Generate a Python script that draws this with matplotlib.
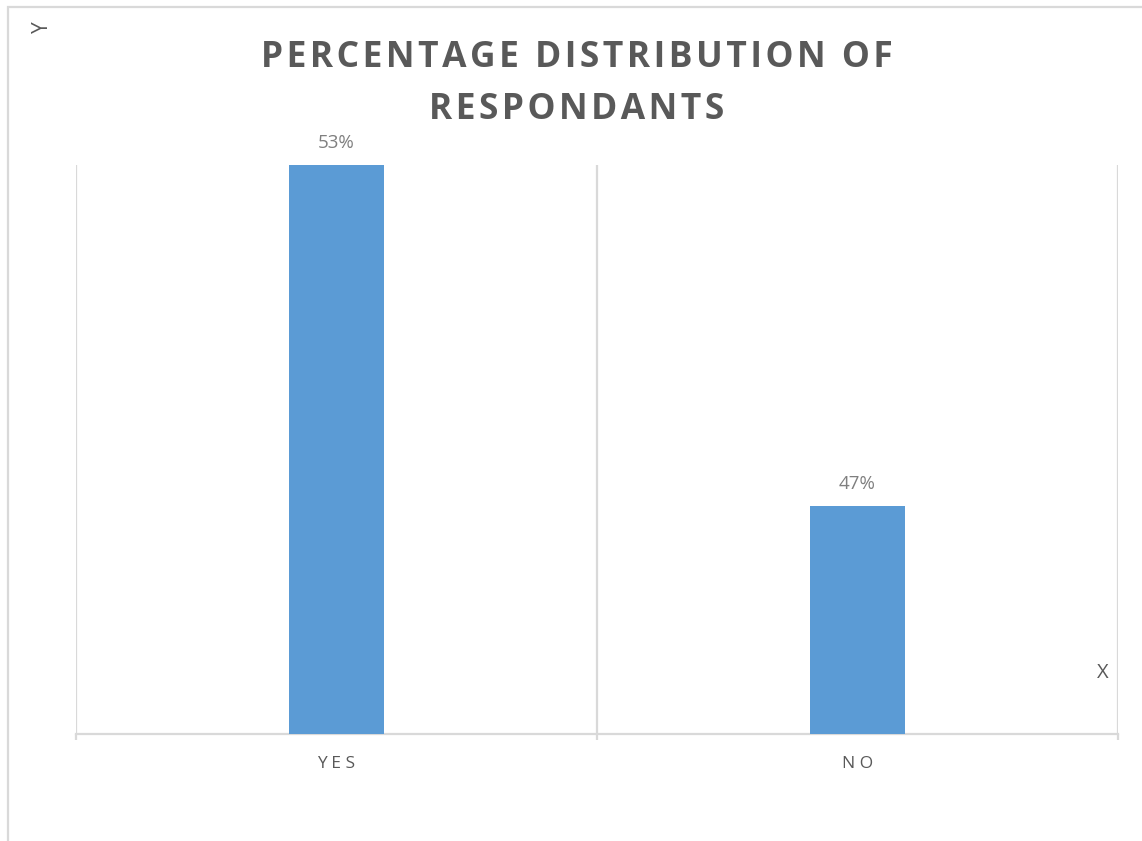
import matplotlib.pyplot as plt
from matplotlib.patches import Rectangle

# data
categories = ["YES", "NO"]
percent = [53, 47]
title_lines = ["PERCENTAGE DISTRIBUTION OF", "RESPONDANTS"]

bar_color = "#5b9bd5"
grid_color = "#d9d9d9"
text_color = "#595959"

plt.rcParams['font.family'] = ['Open Sans', 'DejaVu Sans']

fig = plt.figure(figsize=(11.42, 8.41), dpi=100)

# chart area border (runs off the right and bottom edge)
fig.patches.append(Rectangle((8/1142, -0.05), 1.2, 1 - 7/841 + 0.05,
                             transform=fig.transFigure, fill=False,
                             edgecolor=grid_color, linewidth=1.6))

ax = fig.add_axes([76/1142, 107/841, (1118 - 76)/1142, (734 - 165)/841])

x = list(range(len(categories)))
ax.bar(x, percent, width=0.183, color=bar_color, zorder=3)

ax.set_xlim(-0.5, len(categories) - 0.5)
ax.set_ylim(43, 53)

# labels on top of bars
for xi, v in zip(x, percent):
    ax.annotate(f"{v}%", (xi, v), xytext=(0, 9.5), textcoords="offset points",
                ha="center", va="bottom", fontsize=13.5, color="#7f7f7f")

# category separators like excel
for b in [-0.5, 0.5, 1.5]:
    ax.axvline(b, color=grid_color, linewidth=1.6, zorder=1)

for s in ["top", "left", "right"]:
    ax.spines[s].set_visible(False)
ax.spines["bottom"].set_color(grid_color)
ax.spines["bottom"].set_linewidth(1.6)

ax.set_yticks([])
ax.set_xticks(x)
ax.set_xticklabels([" ".join(c) for c in categories], fontsize=12.5,
                   color=text_color)
ax.tick_params(axis="x", which="major", length=0, pad=16)
ax.set_xticks([-0.5, 0.5, 1.5], minor=True)
ax.tick_params(axis="x", which="minor", length=4.5, width=1.6,
               color=grid_color)

# excel uses letter spacing in the title, hair spaces fake it
spaced = ["\u200a".join(line) for line in title_lines]
fig.text(577/1142, 1 - 58/841, spaced[0], ha="center", va="center",
         fontsize=25.5, fontweight="bold", color=text_color)
fig.text(577/1142, 1 - 110/841, spaced[1], ha="center", va="center",
         fontsize=25.5, fontweight="bold", color=text_color)

fig.text(42/1142, 1 - 27/841, "Y", rotation=90, ha="center", va="center",
         fontsize=15, color=text_color)
fig.text(1103/1142, 1 - 673/841, "X", ha="center", va="center",
         fontsize=14.5, color=text_color)

plt.savefig("out.png", dpi=100)
